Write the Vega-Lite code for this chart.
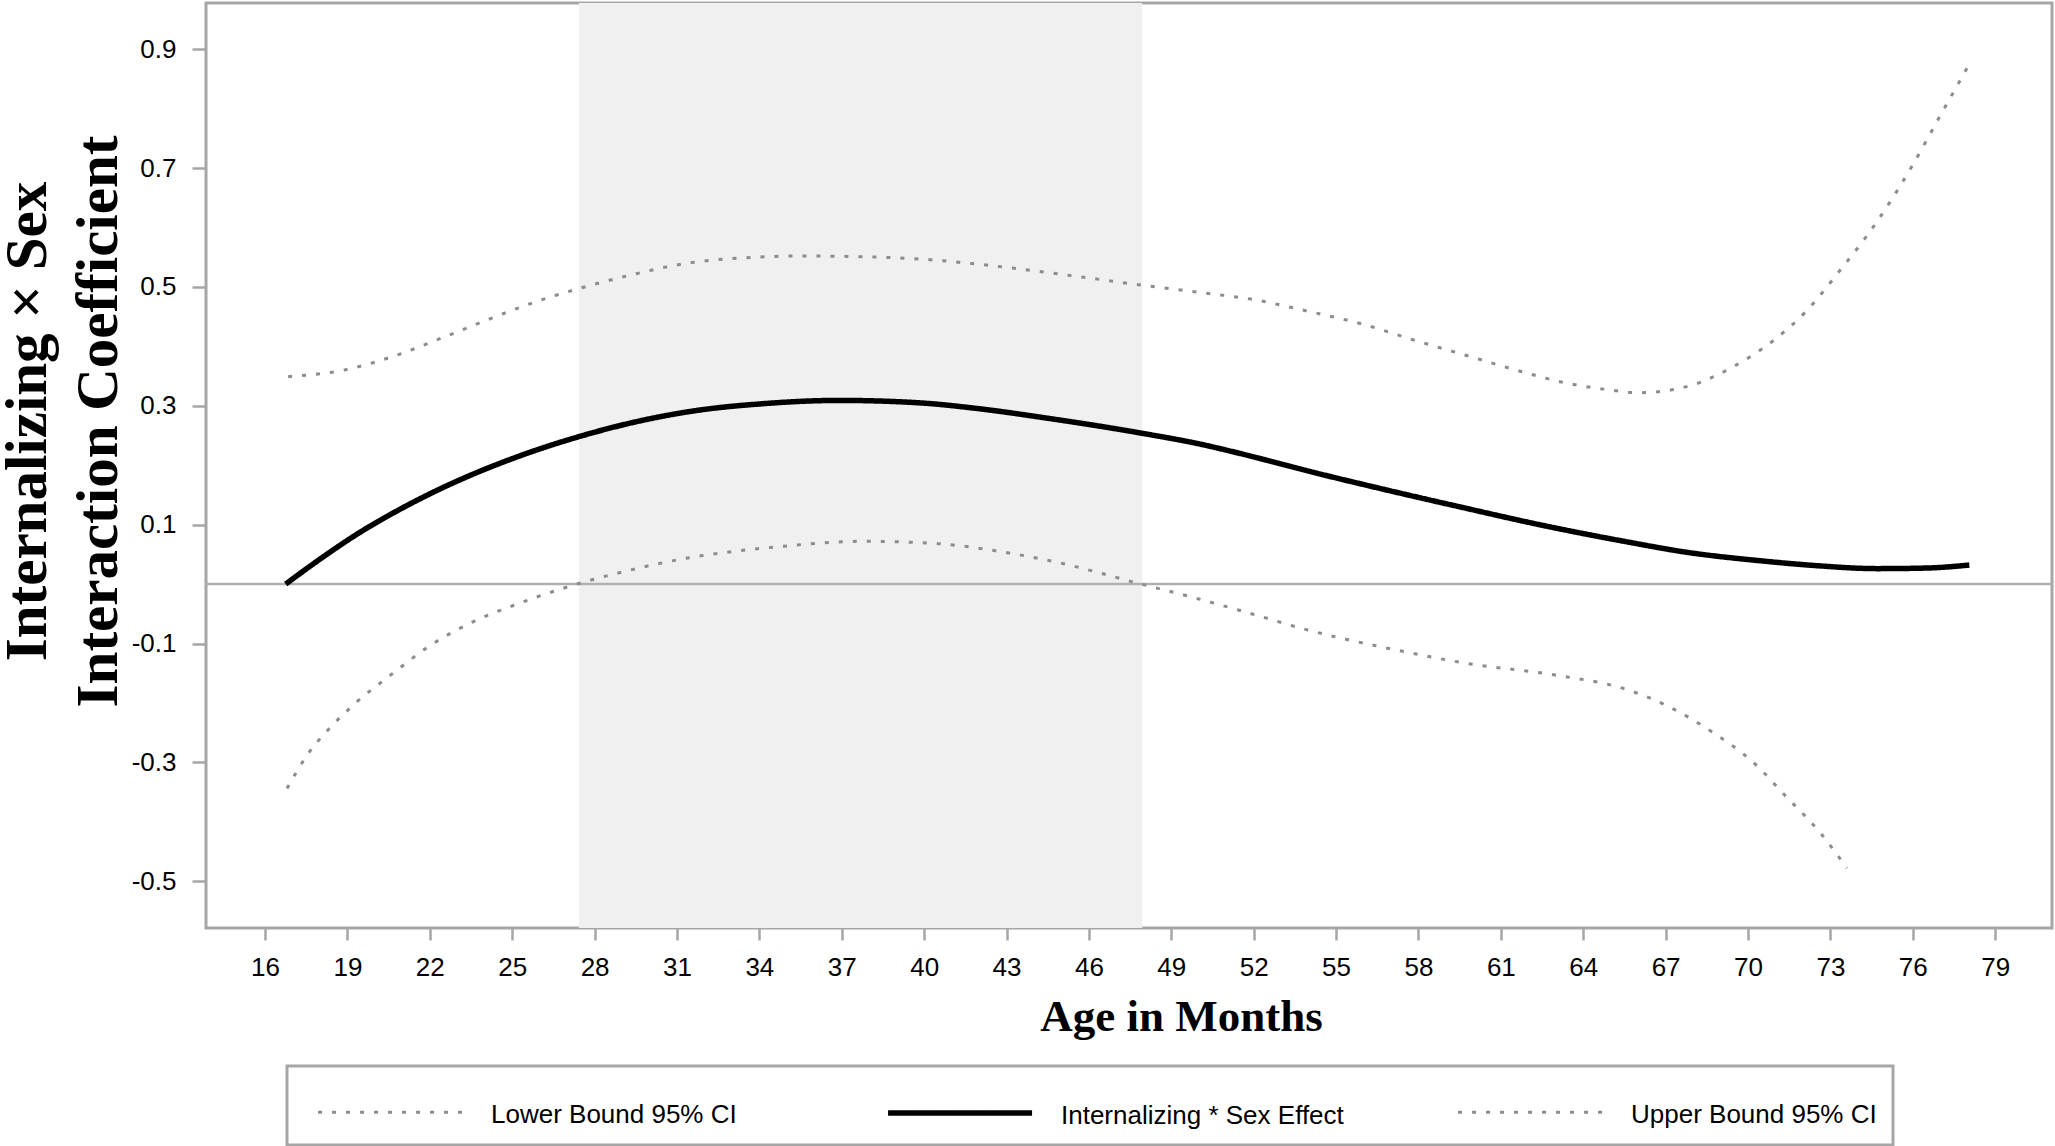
{
  "$schema": "https://vega.github.io/schema/vega-lite/v6.json",
  "width": 1846,
  "height": 925,
  "autosize": {"type": "none"},
  "padding": {"left": 206, "top": 3, "right": 3, "bottom": 218},
  "background": "white",
  "config": {
    "view": {"stroke": "#a6a6a6", "strokeWidth": 3},
    "axis": {"domain": false, "grid": false, "tickColor": "#a6a6a6", "tickWidth": 2.5, "labelFont": "Liberation Sans", "labelFontSize": 26, "labelColor": "#000000", "titleColor": "#000000"},
    "legend": {"labelFont": "Liberation Sans", "labelFontSize": 26, "labelColor": "#000000", "strokeWidth": 3, "labelLimit": 500}
  },
  "layer": [
    {
      "data": {"values": [{"start": 27.43, "end": 47.94}]},
      "mark": {"type": "rect", "color": "#f0f0f0"},
      "encoding": {
        "x": {"field": "start", "type": "quantitative", "scale": {"domain": [13.85, 81.07], "nice": false, "zero": false}},
        "x2": {"field": "end"}
      }
    },
    {
      "data": {"values": [{"zero": 0}]},
      "mark": {"type": "rule", "color": "#b0b0b0", "strokeWidth": 2.5},
      "encoding": {
        "y": {"field": "zero", "type": "quantitative", "scale": {"domain": [-0.5786, 0.9776], "nice": false, "zero": false}}
      }
    },
    {
      "data": {"values": [
        {"m": 16.8, "v": -0.344, "s": "Lower Bound 95% CI"},
        {"m": 17.5, "v": -0.29, "s": "Lower Bound 95% CI"},
        {"m": 18.4, "v": -0.24, "s": "Lower Bound 95% CI"},
        {"m": 19.3, "v": -0.2, "s": "Lower Bound 95% CI"},
        {"m": 20.66, "v": -0.15, "s": "Lower Bound 95% CI"},
        {"m": 21.96, "v": -0.105, "s": "Lower Bound 95% CI"},
        {"m": 23.59, "v": -0.063, "s": "Lower Bound 95% CI"},
        {"m": 25.04, "v": -0.036, "s": "Lower Bound 95% CI"},
        {"m": 27.0, "v": -0.005, "s": "Lower Bound 95% CI"},
        {"m": 28.8, "v": 0.018, "s": "Lower Bound 95% CI"},
        {"m": 31.4, "v": 0.044, "s": "Lower Bound 95% CI"},
        {"m": 34.5, "v": 0.062, "s": "Lower Bound 95% CI"},
        {"m": 37.85, "v": 0.072, "s": "Lower Bound 95% CI"},
        {"m": 40.5, "v": 0.068, "s": "Lower Bound 95% CI"},
        {"m": 42.6, "v": 0.056, "s": "Lower Bound 95% CI"},
        {"m": 45.0, "v": 0.035, "s": "Lower Bound 95% CI"},
        {"m": 47.9, "v": 0.0, "s": "Lower Bound 95% CI"},
        {"m": 50.0, "v": -0.025, "s": "Lower Bound 95% CI"},
        {"m": 51.7, "v": -0.047, "s": "Lower Bound 95% CI"},
        {"m": 53.95, "v": -0.077, "s": "Lower Bound 95% CI"},
        {"m": 57.2, "v": -0.111, "s": "Lower Bound 95% CI"},
        {"m": 59.83, "v": -0.134, "s": "Lower Bound 95% CI"},
        {"m": 62.98, "v": -0.153, "s": "Lower Bound 95% CI"},
        {"m": 65.62, "v": -0.178, "s": "Lower Bound 95% CI"},
        {"m": 67.02, "v": -0.204, "s": "Lower Bound 95% CI"},
        {"m": 68.77, "v": -0.251, "s": "Lower Bound 95% CI"},
        {"m": 70.17, "v": -0.299, "s": "Lower Bound 95% CI"},
        {"m": 71.4, "v": -0.358, "s": "Lower Bound 95% CI"},
        {"m": 72.66, "v": -0.42, "s": "Lower Bound 95% CI"},
        {"m": 73.6, "v": -0.478, "s": "Lower Bound 95% CI"},
        {"m": 16.75, "v": 0.0, "s": "Internalizing * Sex Effect"},
        {"m": 18.0, "v": 0.042, "s": "Internalizing * Sex Effect"},
        {"m": 19.35, "v": 0.084, "s": "Internalizing * Sex Effect"},
        {"m": 21.0, "v": 0.128, "s": "Internalizing * Sex Effect"},
        {"m": 22.6, "v": 0.165, "s": "Internalizing * Sex Effect"},
        {"m": 25.0, "v": 0.211, "s": "Internalizing * Sex Effect"},
        {"m": 27.5, "v": 0.249, "s": "Internalizing * Sex Effect"},
        {"m": 30.0, "v": 0.278, "s": "Internalizing * Sex Effect"},
        {"m": 31.86, "v": 0.293, "s": "Internalizing * Sex Effect"},
        {"m": 34.0, "v": 0.303, "s": "Internalizing * Sex Effect"},
        {"m": 36.9, "v": 0.309, "s": "Internalizing * Sex Effect"},
        {"m": 39.8, "v": 0.305, "s": "Internalizing * Sex Effect"},
        {"m": 42.0, "v": 0.295, "s": "Internalizing * Sex Effect"},
        {"m": 44.5, "v": 0.279, "s": "Internalizing * Sex Effect"},
        {"m": 47.9, "v": 0.254, "s": "Internalizing * Sex Effect"},
        {"m": 50.0, "v": 0.236, "s": "Internalizing * Sex Effect"},
        {"m": 52.0, "v": 0.214, "s": "Internalizing * Sex Effect"},
        {"m": 54.0, "v": 0.19, "s": "Internalizing * Sex Effect"},
        {"m": 56.5, "v": 0.162, "s": "Internalizing * Sex Effect"},
        {"m": 59.5, "v": 0.13, "s": "Internalizing * Sex Effect"},
        {"m": 62.5, "v": 0.099, "s": "Internalizing * Sex Effect"},
        {"m": 65.6, "v": 0.071, "s": "Internalizing * Sex Effect"},
        {"m": 67.7, "v": 0.054, "s": "Internalizing * Sex Effect"},
        {"m": 70.5, "v": 0.039, "s": "Internalizing * Sex Effect"},
        {"m": 72.5, "v": 0.031, "s": "Internalizing * Sex Effect"},
        {"m": 74.7, "v": 0.026, "s": "Internalizing * Sex Effect"},
        {"m": 76.5, "v": 0.027, "s": "Internalizing * Sex Effect"},
        {"m": 78.06, "v": 0.032, "s": "Internalizing * Sex Effect"},
        {"m": 16.84, "v": 0.349, "s": "Upper Bound 95% CI"},
        {"m": 18.87, "v": 0.36, "s": "Upper Bound 95% CI"},
        {"m": 20.66, "v": 0.383, "s": "Upper Bound 95% CI"},
        {"m": 22.6, "v": 0.417, "s": "Upper Bound 95% CI"},
        {"m": 24.23, "v": 0.447, "s": "Upper Bound 95% CI"},
        {"m": 25.86, "v": 0.475, "s": "Upper Bound 95% CI"},
        {"m": 27.49, "v": 0.498, "s": "Upper Bound 95% CI"},
        {"m": 29.5, "v": 0.522, "s": "Upper Bound 95% CI"},
        {"m": 31.39, "v": 0.54, "s": "Upper Bound 95% CI"},
        {"m": 33.5, "v": 0.549, "s": "Upper Bound 95% CI"},
        {"m": 35.5, "v": 0.552, "s": "Upper Bound 95% CI"},
        {"m": 37.5, "v": 0.551, "s": "Upper Bound 95% CI"},
        {"m": 39.8, "v": 0.547, "s": "Upper Bound 95% CI"},
        {"m": 42.0, "v": 0.538, "s": "Upper Bound 95% CI"},
        {"m": 44.0, "v": 0.527, "s": "Upper Bound 95% CI"},
        {"m": 46.0, "v": 0.515, "s": "Upper Bound 95% CI"},
        {"m": 47.9, "v": 0.503, "s": "Upper Bound 95% CI"},
        {"m": 50.0, "v": 0.491, "s": "Upper Bound 95% CI"},
        {"m": 52.2, "v": 0.477, "s": "Upper Bound 95% CI"},
        {"m": 53.69, "v": 0.462, "s": "Upper Bound 95% CI"},
        {"m": 56.06, "v": 0.436, "s": "Upper Bound 95% CI"},
        {"m": 57.88, "v": 0.41, "s": "Upper Bound 95% CI"},
        {"m": 59.72, "v": 0.385, "s": "Upper Bound 95% CI"},
        {"m": 61.56, "v": 0.36, "s": "Upper Bound 95% CI"},
        {"m": 63.4, "v": 0.338, "s": "Upper Bound 95% CI"},
        {"m": 64.74, "v": 0.328, "s": "Upper Bound 95% CI"},
        {"m": 66.06, "v": 0.322, "s": "Upper Bound 95% CI"},
        {"m": 67.98, "v": 0.335, "s": "Upper Bound 95% CI"},
        {"m": 69.47, "v": 0.366, "s": "Upper Bound 95% CI"},
        {"m": 70.96, "v": 0.411, "s": "Upper Bound 95% CI"},
        {"m": 72.1, "v": 0.458, "s": "Upper Bound 95% CI"},
        {"m": 73.32, "v": 0.526, "s": "Upper Bound 95% CI"},
        {"m": 74.73, "v": 0.612, "s": "Upper Bound 95% CI"},
        {"m": 75.92, "v": 0.699, "s": "Upper Bound 95% CI"},
        {"m": 77.0, "v": 0.788, "s": "Upper Bound 95% CI"},
        {"m": 78.0, "v": 0.87, "s": "Upper Bound 95% CI"}
      ]},
      "mark": {"type": "line", "interpolate": "monotone", "strokeCap": "butt"},
      "encoding": {
        "x": {
          "field": "m", "type": "quantitative",
          "scale": {"domain": [13.85, 81.07], "nice": false, "zero": false},
          "axis": {
            "values": [16, 19, 22, 25, 28, 31, 34, 37, 40, 43, 46, 49, 52, 55, 58, 61, 64, 67, 70, 73, 76, 79],
            "tickSize": 12, "labelPadding": 14,
            "title": "Age in Months",
            "titleFont": "Liberation Serif", "titleFontWeight": "bold", "titleFontSize": 45,
            "titleX": 975, "titleY": 102, "titleBaseline": "alphabetic", "titleAlign": "center"
          }
        },
        "y": {
          "field": "v", "type": "quantitative",
          "scale": {"domain": [-0.5786, 0.9776], "nice": false, "zero": false},
          "axis": {
            "values": [-0.5, -0.3, -0.1, 0.1, 0.3, 0.5, 0.7, 0.9],
            "labelExpr": "datum.value < 0 ? '-' + format(-datum.value, '.1f') : format(datum.value, '.1f')",
            "tickSize": 14, "labelPadding": 16,
            "title": ["Internalizing × Sex", "Interaction Coefficient"],
            "titleFont": "Liberation Serif", "titleFontWeight": "bold", "titleFontSize": 59,
            "titleAngle": 270, "titleX": -161, "titleY": 418, "titleBaseline": "alphabetic", "titleAlign": "center",
            "titleLineHeight": 71
          }
        },
        "color": {
          "field": "s", "type": "nominal",
          "scale": {"domain": ["Lower Bound 95% CI", "Internalizing * Sex Effect", "Upper Bound 95% CI"], "range": ["#8c8c8c", "#000000", "#8c8c8c"]},
          "legend": {
            "title": null, "orient": "none", "legendX": 81, "legendY": 1063,
            "direction": "horizontal", "columns": 3, "gridAlign": "all", "columnPadding": 99,
            "padding": 16, "strokeColor": "#a6a6a6",
            "symbolType": "M-0.33,0.55L7.67,0.55", "symbolSize": 1296, "labelOffset": 146,
            "labelBaseline": "top"
          }
        },
        "strokeDash": {
          "field": "s", "type": "nominal",
          "scale": {"domain": ["Lower Bound 95% CI", "Internalizing * Sex Effect", "Upper Bound 95% CI"], "range": [[4, 10], [1, 0], [4, 10]]}
        },
        "strokeWidth": {
          "field": "s", "type": "nominal",
          "scale": {"type": "ordinal", "domain": ["Lower Bound 95% CI", "Internalizing * Sex Effect", "Upper Bound 95% CI"], "range": [3, 5.5, 3]}
        }
      }
    }
  ]
}
